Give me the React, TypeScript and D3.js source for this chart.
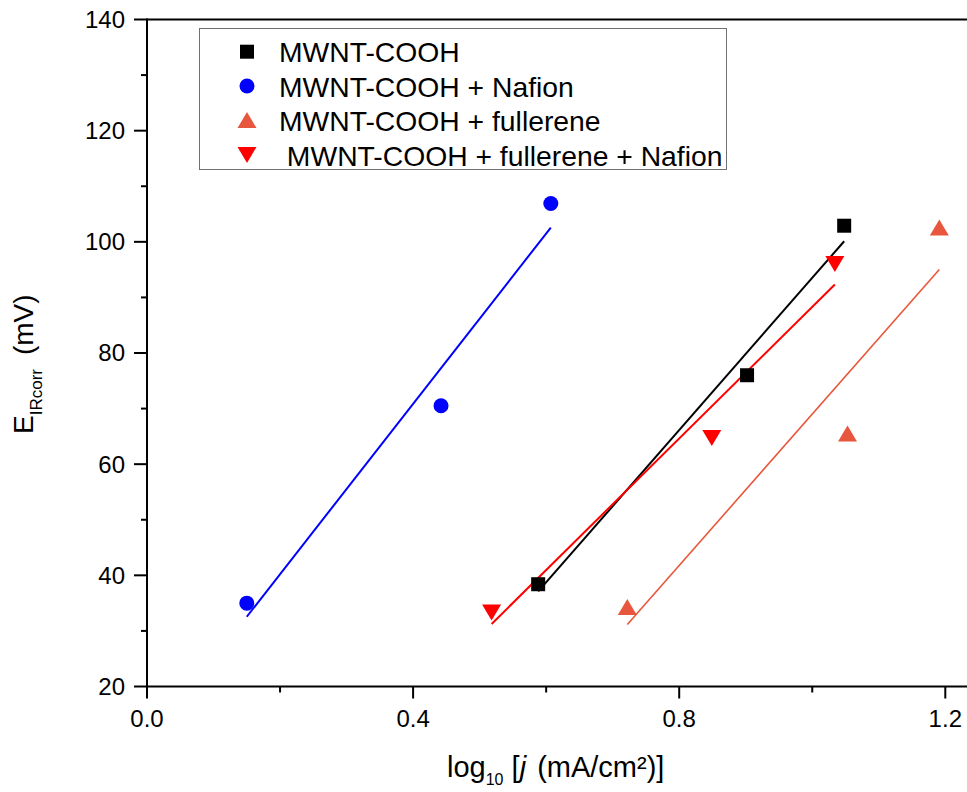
import React, { useEffect, useRef } from "react";
import * as d3 from "d3";

const W = 967;
const H = 792;

const seriesNames = [
  "MWNT-COOH",
  "MWNT-COOH + Nafion",
  "MWNT-COOH + fullerene",
  " MWNT-COOH + fullerene + Nafion",
];
const seriesColors = ["#000000", "#0000FF", "#E8573D", "#FF0000"];
const seriesSymbols = ["square", "circle", "up", "down"];

const xBlack = [0.588, 0.902, 1.048];
const yBlack = [38.4, 76.0, 102.9];
const xBlue = [0.15, 0.442, 0.607];
const yBlue = [35.0, 70.5, 106.9];
const xOrange = [0.722, 1.053, 1.191];
const yOrange = [34.3, 65.5, 102.6];
const xRed = [0.518, 0.849, 1.034];
const yRed = [33.3, 64.7, 96.0];

const seriesX = [xBlack, xBlue, xOrange, xRed];
const seriesY = [yBlack, yBlue, yOrange, yRed];

const xMajorTicks = [0, 0.4, 0.8, 1.2];
const xMinorTicks = [0.2, 0.6, 1.0];
const yMajorTicks = [20, 40, 60, 80, 100, 120, 140];
const yMinorTicks = [30, 50, 70, 90, 110, 130];

function fit(xs: number[], ys: number[]) {
  const mx = d3.mean(xs) as number;
  const my = d3.mean(ys) as number;
  let sxy = 0;
  let sxx = 0;
  xs.forEach((x, i) => {
    sxy += (x - mx) * (ys[i] - my);
    sxx += (x - mx) * (x - mx);
  });
  const b = sxy / sxx;
  const a = my - b * mx;
  const x0 = d3.min(xs) as number;
  const x1 = d3.max(xs) as number;
  return [
    [x0, a + b * x0],
    [x1, a + b * x1],
  ];
}

function markerPath(kind: string, cx: number, cy: number): string {
  if (kind === "square") {
    const s = 7;
    return `M${cx - s},${cy - s}H${cx + s}V${cy + s}H${cx - s}Z`;
  }
  if (kind === "circle") {
    const r = 7.5;
    return `M${cx - r},${cy}A${r},${r} 0 1,0 ${cx + r},${cy}A${r},${r} 0 1,0 ${cx - r},${cy}Z`;
  }
  const hw = 9.5;
  const hh = 8;
  if (kind === "up") {
    return `M${cx},${cy - hh}L${cx + hw},${cy + hh}L${cx - hw},${cy + hh}Z`;
  }
  return `M${cx - hw},${cy - hh}L${cx + hw},${cy - hh}L${cx},${cy + hh}Z`;
}

export default function App() {
  const ref = useRef<SVGSVGElement>(null);

  useEffect(() => {
    const svg = d3.select(ref.current);
    svg.selectAll("*").remove();

    const x = d3.scaleLinear().domain([0, 1.2]).range([147, 945.3]);
    const y = d3.scaleLinear().domain([20, 140]).range([686.5, 19.5]);
    const font = "'Liberation Sans', Arial, sans-serif";

    const g = svg.append("g");

    // Axes frame
    g.append("line")
      .attr("x1", x(0)).attr("x2", W + 5)
      .attr("y1", y(20)).attr("y2", y(20))
      .attr("stroke", "#000").attr("stroke-width", 2);
    g.append("line")
      .attr("x1", x(0)).attr("x2", W + 5)
      .attr("y1", y(140)).attr("y2", y(140))
      .attr("stroke", "#000").attr("stroke-width", 2);
    g.append("line")
      .attr("x1", x(0)).attr("x2", x(0))
      .attr("y1", y(20) + 1).attr("y2", y(140) - 1)
      .attr("stroke", "#000").attr("stroke-width", 2);

    // X ticks
    xMajorTicks.forEach((t) => {
      g.append("line")
        .attr("x1", x(t)).attr("x2", x(t))
        .attr("y1", y(20)).attr("y2", y(20) + 12)
        .attr("stroke", "#000").attr("stroke-width", 2);
      g.append("text")
        .attr("x", x(t)).attr("y", 727)
        .attr("text-anchor", "middle")
        .attr("font-family", font).attr("font-size", 24)
        .text(d3.format(".1f")(t));
    });
    xMinorTicks.forEach((t) => {
      g.append("line")
        .attr("x1", x(t)).attr("x2", x(t))
        .attr("y1", y(20)).attr("y2", y(20) + 6)
        .attr("stroke", "#000").attr("stroke-width", 2);
    });

    // Y ticks
    yMajorTicks.forEach((t) => {
      g.append("line")
        .attr("x1", x(0) - 13).attr("x2", x(0))
        .attr("y1", y(t)).attr("y2", y(t))
        .attr("stroke", "#000").attr("stroke-width", 2);
      g.append("text")
        .attr("x", 125).attr("y", y(t))
        .attr("dy", "0.35em")
        .attr("text-anchor", "end")
        .attr("font-family", font).attr("font-size", 24)
        .text(String(t));
    });
    yMinorTicks.forEach((t) => {
      g.append("line")
        .attr("x1", x(0) - 6).attr("x2", x(0))
        .attr("y1", y(t)).attr("y2", y(t))
        .attr("stroke", "#000").attr("stroke-width", 2);
    });

    // Fit lines
    seriesX.forEach((xs, i) => {
      const pts = fit(xs, seriesY[i]);
      g.append("line")
        .attr("x1", x(pts[0][0])).attr("y1", y(pts[0][1]))
        .attr("x2", x(pts[1][0])).attr("y2", y(pts[1][1]))
        .attr("stroke", seriesColors[i])
        .attr("stroke-width", i === 2 ? 1.6 : 2);
    });

    // Markers
    seriesX.forEach((xs, i) => {
      xs.forEach((xv, j) => {
        g.append("path")
          .attr("d", markerPath(seriesSymbols[i], x(xv), y(seriesY[i][j])))
          .attr("fill", seriesColors[i]);
      });
    });

    // Legend
    const leg = g.append("g");
    leg.append("rect")
      .attr("x", 199.5).attr("y", 28.5)
      .attr("width", 527).attr("height", 141)
      .attr("fill", "#fff").attr("stroke", "#707070").attr("stroke-width", 1);
    const rowY = [51.7, 86, 120, 155];
    seriesNames.forEach((name, i) => {
      leg.append("path")
        .attr("d", markerPath(seriesSymbols[i], 247, rowY[i]))
        .attr("fill", seriesColors[i]);
      leg.append("text")
        .attr("x", 279).attr("y", rowY[i] + 10.5)
        .attr("font-family", font).attr("font-size", 28.3)
        .style("white-space", "pre")
        .text(name);
    });

    // X label
    const xl = g.append("text")
      .attr("x", 447).attr("y", 777)
      .attr("font-family", font).attr("font-size", 29)
      .style("white-space", "pre");
    xl.append("tspan").text("log");
    xl.append("tspan").attr("font-size", 16).attr("dy", 8).text("10");
    xl.append("tspan").attr("dy", -8).text(" [");
    xl.append("tspan").attr("font-style", "italic").text("j");
    xl.append("tspan").attr("dx", 3).text(" (mA/cm²)]");

    // Y label
    const yl = g.append("text")
      .attr("transform", "translate(33,434) rotate(-90)")
      .attr("font-family", font).attr("font-size", 28)
      .style("white-space", "pre");
    yl.append("tspan").text("E");
    yl.append("tspan").attr("font-size", 17).attr("dy", 9).text("IRcorr");
    yl.append("tspan").attr("dy", -9).attr("dx", 14).text("(mV)");
  }, []);

  return (
    <svg
      ref={ref}
      width={W}
      height={H}
      style={{ position: "absolute", left: 0, top: 0, background: "#fff" }}
    />
  );
}
